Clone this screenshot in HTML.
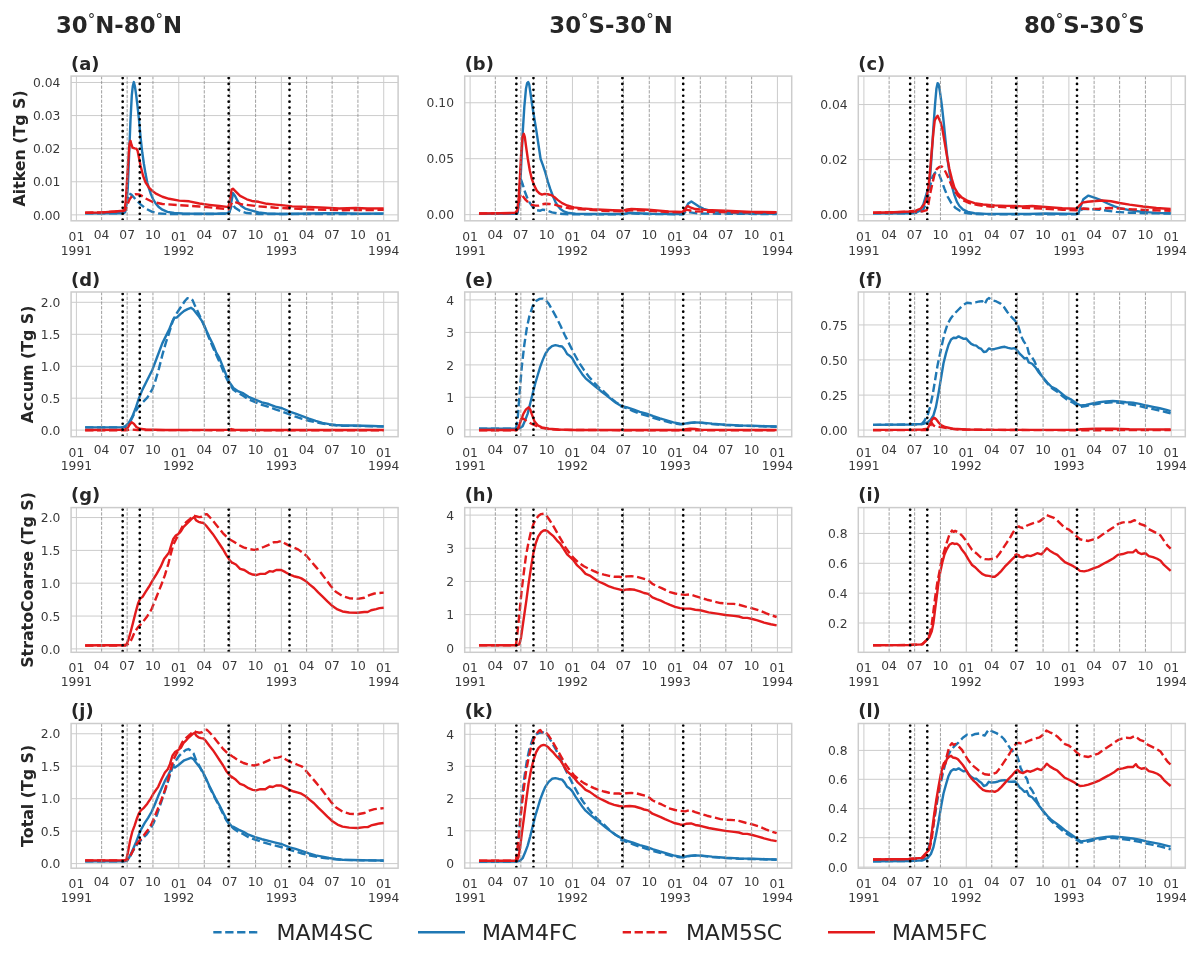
<!DOCTYPE html>
<html lang="en">
<head>
<meta charset="utf-8">
<title>Sulfate burden time series</title>
<style>
html,body{margin:0;padding:0;background:#fff;}
body{width:1199px;height:953px;overflow:hidden;}
svg{display:block;}
text{font-family:"DejaVu Sans","Liberation Sans",sans-serif;fill:#262626;}
.tk{fill:#383838;}
.tk{font-size:12.3px;}
.b{font-weight:bold;}
.ttl{font-size:22.8px;font-weight:bold;}
.pl{font-size:17.9px;font-weight:bold;}
.yl{font-size:15.8px;font-weight:bold;}
.lg{font-size:22px;}
.gM{stroke:#cccccc;stroke-width:1;fill:none;}
.gm{stroke:#8f8f8f;stroke-width:0.85;stroke-dasharray:3.3 1.4;fill:none;}
.dt{stroke:#000;stroke-width:2.7;stroke-dasharray:0 5.9;stroke-linecap:round;fill:none;}
.ax{stroke:#cccccc;stroke-width:1.5;fill:none;}
.c{fill:none;stroke-width:2.4;stroke-linejoin:round;stroke-linecap:butt;}
.bl{stroke:#1f78b4;}.rd{stroke:#e31a1c;}
.ds{stroke-dasharray:8.3 3.6;}
</style>
</head>
<body>
<svg width="1199" height="953" viewBox="0 0 1199 953">
<rect x="0" y="0" width="1199" height="953" fill="#ffffff"/>
<text class="ttl" x="56" y="33">30<tspan class="dg" dy="-8" font-size="15" font-weight="normal">°</tspan><tspan dy="8">N-80</tspan><tspan dy="-8" font-size="15" font-weight="normal">°</tspan><tspan dy="8">N</tspan></text>
<text class="ttl" x="549.3" y="33">30<tspan class="dg" dy="-8" font-size="15" font-weight="normal">°</tspan><tspan dy="8">S-30</tspan><tspan dy="-8" font-size="15" font-weight="normal">°</tspan><tspan dy="8">N</tspan></text>
<text class="ttl" x="1024" y="33">80<tspan class="dg" dy="-8" font-size="15" font-weight="normal">°</tspan><tspan dy="8">S-30</tspan><tspan dy="-8" font-size="15" font-weight="normal">°</tspan><tspan dy="8">S</tspan></text>
<g id="p_a">
<text class="pl" x="71.1" y="69.6">(a)</text>
<path class="gM" d="M71.1 82.47H398.1"/><text class="tk" text-anchor="end" x="60.4" y="87.17">0.04</text>
<path class="gM" d="M71.1 115.57H398.1"/><text class="tk" text-anchor="end" x="60.4" y="120.27">0.03</text>
<path class="gM" d="M71.1 148.67H398.1"/><text class="tk" text-anchor="end" x="60.4" y="153.37">0.02</text>
<path class="gM" d="M71.1 181.76H398.1"/><text class="tk" text-anchor="end" x="60.4" y="186.46">0.01</text>
<path class="gM" d="M71.1 214.86H398.1"/><text class="tk" text-anchor="end" x="60.4" y="219.56">0.00</text>
<text class="tk" text-anchor="middle" x="76.4" y="240.8">01</text><text class="tk" text-anchor="middle" x="76.4" y="254.5">1991</text>
<text class="tk" text-anchor="middle" x="178.75" y="240.8">01</text><text class="tk" text-anchor="middle" x="178.75" y="254.5">1992</text>
<text class="tk" text-anchor="middle" x="281.38" y="240.8">01</text><text class="tk" text-anchor="middle" x="281.38" y="254.5">1993</text>
<text class="tk" text-anchor="middle" x="383.73" y="240.8">01</text><text class="tk" text-anchor="middle" x="383.73" y="254.5">1994</text>
<path class="gM" d="M76.4 76.1V220.8M178.75 76.1V220.8M281.38 76.1V220.8M383.73 76.1V220.8"/>
<path class="c bl ds" d="M85.15 213.22L123.76 213.22L125.78 209.36L127.46 199.28L129.14 193.4L131.32 194.58L135.52 199.28L140.55 204.32L145.59 208.52L152.31 211.87L159.02 213.55L169.1 214.06L228.7 213.89L230.38 209.36L232.06 204.32L232.56 204.32L235.07 207.68L240.11 211.03L246.83 213.05L258.58 214.06L383.66 213.89"/>
<path class="c bl" d="M85.15 213.22L122.09 213.22L125.11 212.38L126.45 204.32L127.79 187.53L129.14 153.95L130.48 120.37L131.82 95.18L132.83 85.95L133.84 82.09L134.85 85.95L136.19 95.18L137.53 106.1L138.88 118.69L140.55 137.16L142.23 152.27L143.91 164.02L145.59 174.1L147.27 182.49L148.95 188.37L150.96 194.24L153.15 199.28L155.66 203.48L159.02 207.34L162.38 209.69L167.42 211.87L174.13 213.05L182.53 213.55L199.32 213.72L216.11 213.72L227.02 213.22L229.54 211.87L231.22 202.64L232.9 194.24L232.89 192.9L235.07 195.92L238.43 202.64L241.79 206.33L245.15 208.52L250.18 210.19L258.58 212.38L266.97 213.55L282.09 214.06L308.95 213.55L325.74 213.22L342.53 213.22L359.32 213.72L383.66 213.55"/>
<path class="c rd ds" d="M85.15 212.71L101.94 212.38L115.37 211.54L122.92 211.03L125.44 210.19L127.46 204.32L129.64 199.28L132.16 195.92L135.52 194.24L138.88 194.41L141.39 195.59L145.59 198.44L152.31 201.8L162.38 203.98L179.17 205.16L199.32 206.5L216.11 208.01L228.7 209.36L230.38 206L232.06 202.64L234.23 201.8L241.79 204.32L258.58 206.33L275.37 207.68L292.16 208.52L308.95 209.36L342.53 210.19L383.66 209.86"/>
<path class="c rd" d="M85.15 212.71L101.94 212.38L115.37 211.54L122.92 210.7L124.6 209.36L125.78 200.96L127.12 179.13L128.47 157.31L129.47 143.88L130.48 140.85L131.49 144.71L132.49 147.57L134.68 148.41L136.36 148.58L137.53 150.59L138.88 157.31L140.55 165.7L143.07 175.78L145.59 182.49L148.95 187.53L152.31 190.89L156.5 193.91L162.38 196.76L169.1 198.78L179.17 200.62L189.24 201.3L199.32 203.48L209.39 204.82L219.47 206L227.02 206.84L228.7 206.33L230.38 197.6L231.55 189.54L232.9 188.7L235.07 190.89L240.11 195.92L246.83 199.28L251.86 200.96L258.58 201.8L266.97 203.81L275.37 204.65L283.76 205.33L292.16 206.33L308.95 207L325.74 207.68L339.17 208.52L355.96 208.01L367.71 208.52L383.66 208.35"/>
<text class="tk" text-anchor="middle" x="101.64" y="238.5">04</text><text class="tk" text-anchor="middle" x="127.15" y="238.5">07</text><text class="tk" text-anchor="middle" x="152.95" y="238.5">10</text><text class="tk" text-anchor="middle" x="204.27" y="238.5">04</text><text class="tk" text-anchor="middle" x="229.78" y="238.5">07</text><text class="tk" text-anchor="middle" x="255.58" y="238.5">10</text><text class="tk" text-anchor="middle" x="306.62" y="238.5">04</text><text class="tk" text-anchor="middle" x="332.13" y="238.5">07</text><text class="tk" text-anchor="middle" x="357.93" y="238.5">10</text>
<path class="gm" d="M101.64 76.1V220.8M127.15 76.1V220.8M152.95 76.1V220.8M204.27 76.1V220.8M229.78 76.1V220.8M255.58 76.1V220.8M306.62 76.1V220.8M332.13 76.1V220.8M357.93 76.1V220.8"/>
<path class="dt" d="M122.67 219.67V76.6M139.77 219.67V76.6M228.66 219.67V76.6M289.51 219.67V76.6"/>
<rect class="ax" x="71.1" y="76.1" width="327" height="144.7"/>
<text class="yl" text-anchor="middle" transform="translate(24.6 148.45) rotate(-90)">Aitken (Tg S)</text>
</g>
<g id="p_b">
<text class="pl" x="464.7" y="69.6">(b)</text>
<path class="gM" d="M464.7 102.75H791.7"/><text class="tk" text-anchor="end" x="454" y="107.45">0.10</text>
<path class="gM" d="M464.7 158.7H791.7"/><text class="tk" text-anchor="end" x="454" y="163.4">0.05</text>
<path class="gM" d="M464.7 214.65H791.7"/><text class="tk" text-anchor="end" x="454" y="219.35">0.00</text>
<text class="tk" text-anchor="middle" x="470.1" y="240.8">01</text><text class="tk" text-anchor="middle" x="470.1" y="254.5">1991</text>
<text class="tk" text-anchor="middle" x="572.45" y="240.8">01</text><text class="tk" text-anchor="middle" x="572.45" y="254.5">1992</text>
<text class="tk" text-anchor="middle" x="675.08" y="240.8">01</text><text class="tk" text-anchor="middle" x="675.08" y="254.5">1993</text>
<text class="tk" text-anchor="middle" x="777.43" y="240.8">01</text><text class="tk" text-anchor="middle" x="777.43" y="254.5">1994</text>
<path class="gM" d="M470.1 76.1V220.8M572.45 76.1V220.8M675.08 76.1V220.8M777.43 76.1V220.8"/>
<path class="c bl ds" d="M478.99 213.89L516.76 213.89L518.78 204.32L520.12 185.85L521.13 179.97L522.64 184.17L525.16 192.57L528.52 200.96L532.71 206.84L536.91 210.19L540.27 210.7L542.79 209.69L546.15 210.19L552.02 212.38L558.74 213.72L568.81 214.22L621.7 214.22L624.72 214.06L628.07 213.05L634.79 213.55L651.58 214.06L683.48 214.22L686 211.03L690.2 212.38L698.59 213.55L776.66 214.06"/>
<path class="c bl" d="M478.99 213.89L515.09 213.89L517.6 212.71L519.28 200.96L520.96 170.74L522.64 133.8L524.32 106.94L526 88.47L527.17 83.1L528.18 82.09L529.19 84.27L530.53 93.51L532.21 105.26L534.39 118.69L536.58 132.12L538.59 145.55L540.61 158.99L542.79 164.86L545.31 172.42L547.83 181.65L550.34 189.21L552.86 195.92L555.38 201.8L557.9 206L560.42 209.02L563.78 211.37L568.81 213.05L575.53 213.72L592.32 214.06L621.7 214.06L624.72 213.89L629.75 212.71L638.15 213.22L651.58 213.89L682.64 214.06L685.16 209.36L688.18 203.48L691.37 201.46L694.39 203.48L698.59 206.33L703.63 208.85L710.34 210.7L718.74 211.87L735.53 213.05L752.32 213.55L776.66 213.72"/>
<path class="c rd ds" d="M478.99 213.55L499.97 213.22L515.92 213.05L518.11 207.68L519.79 197.6L520.96 193.91L522.64 195.92L525.16 199.28L528.52 202.64L531.88 204.82L535.23 205.66L538.59 205.66L541.95 204.32L545.31 203.81L549.5 203.98L555.38 204.82L562.1 206.84L568.81 208.18L582.24 209.36L602.39 210.7L621.7 211.37L624.72 211.37L629.75 210.19L648.22 210.7L668.37 212.04L683.48 212.38L686 209.69L688.52 210.19L695.23 211.37L718.74 212.04L776.66 212.71"/>
<path class="c rd" d="M478.99 213.55L499.97 213.22L515.09 212.88L517.1 211.03L518.44 200.96L519.79 179.13L521.13 153.95L522.47 137.16L523.82 133.8L524.82 137.16L526.17 147.23L527.85 158.99L529.86 170.74L531.88 179.13L534.39 185.85L536.91 190.89L539.43 193.4L541.95 194.58L544.47 193.91L547.83 194.24L551.18 195.08L554.54 197.27L557.9 200.12L562.1 203.14L567.13 205.49L573.85 207.34L582.24 208.35L592.32 209.19L602.39 209.69L612.47 210.19L621.7 210.53L623.04 210.7L627.23 209.36L631.43 209.02L648.22 209.69L668.37 211.37L682.64 211.87L685.16 208.52L687.68 206L690.2 207.34L695.23 209.02L705.31 209.86L725.45 210.7L752.32 211.87L776.66 212.21"/>
<text class="tk" text-anchor="middle" x="495.34" y="238.5">04</text><text class="tk" text-anchor="middle" x="520.85" y="238.5">07</text><text class="tk" text-anchor="middle" x="546.65" y="238.5">10</text><text class="tk" text-anchor="middle" x="597.97" y="238.5">04</text><text class="tk" text-anchor="middle" x="623.48" y="238.5">07</text><text class="tk" text-anchor="middle" x="649.28" y="238.5">10</text><text class="tk" text-anchor="middle" x="700.32" y="238.5">04</text><text class="tk" text-anchor="middle" x="725.83" y="238.5">07</text><text class="tk" text-anchor="middle" x="751.63" y="238.5">10</text>
<path class="gm" d="M495.34 76.1V220.8M520.85 76.1V220.8M546.65 76.1V220.8M597.97 76.1V220.8M623.48 76.1V220.8M649.28 76.1V220.8M700.32 76.1V220.8M725.83 76.1V220.8M751.63 76.1V220.8"/>
<path class="dt" d="M516.37 219.67V76.6M533.47 219.67V76.6M622.36 219.67V76.6M683.21 219.67V76.6"/>
<rect class="ax" x="464.7" y="76.1" width="327" height="144.7"/>
</g>
<g id="p_c">
<text class="pl" x="858.3" y="69.6">(c)</text>
<path class="gM" d="M858.3 104.55H1185.3"/><text class="tk" text-anchor="end" x="847.6" y="109.25">0.04</text>
<path class="gM" d="M858.3 159.6H1185.3"/><text class="tk" text-anchor="end" x="847.6" y="164.3">0.02</text>
<path class="gM" d="M858.3 214.65H1185.3"/><text class="tk" text-anchor="end" x="847.6" y="219.35">0.00</text>
<text class="tk" text-anchor="middle" x="863.9" y="240.8">01</text><text class="tk" text-anchor="middle" x="863.9" y="254.5">1991</text>
<text class="tk" text-anchor="middle" x="966.25" y="240.8">01</text><text class="tk" text-anchor="middle" x="966.25" y="254.5">1992</text>
<text class="tk" text-anchor="middle" x="1068.88" y="240.8">01</text><text class="tk" text-anchor="middle" x="1068.88" y="254.5">1993</text>
<text class="tk" text-anchor="middle" x="1171.23" y="240.8">01</text><text class="tk" text-anchor="middle" x="1171.23" y="254.5">1994</text>
<path class="gM" d="M863.9 76.1V220.8M966.25 76.1V220.8M1068.88 76.1V220.8M1171.23 76.1V220.8"/>
<path class="c bl ds" d="M872.99 213.22L909.09 213.22L915.8 212.88L922.52 211.03L925.88 204.32L928.39 194.24L930.58 184.17L932.59 176.62L935.11 172.75L937.29 172.08L939.31 174.94L941.83 181.65L944.34 188.37L947.7 196.76L951.06 202.64L955.26 207.68L960.29 211.03L966.17 213.05L972.89 213.89L986.32 214.39L1015.7 214.39L1076.64 214.22L1078.82 213.55L1080.84 210.19L1083.36 208.68L1089.23 209.02L1099.31 209.69L1107.7 210.7L1116.1 211.87L1129.53 212.71L1146.32 213.22L1170.66 213.55"/>
<path class="c bl" d="M872.99 213.22L909.09 213.22L915.8 212.71L920 210.7L923.36 204.32L925.88 195.92L928.39 187.53L930.07 177.45L931.75 153.95L933.43 127.09L935.11 103.58L936.45 88.47L937.63 83.1L938.64 84.27L939.98 91.83L941.83 105.26L943.5 120.37L945.52 140.52L947.7 160.66L949.72 174.1L951.9 185.85L954.42 195.08L956.94 201.8L959.45 206L962.81 209.36L967.85 211.87L974.57 213.22L986.32 213.89L1015.7 214.06L1028.79 213.89L1045.58 213.55L1076.64 213.89L1078.82 212.71L1080.84 206L1083.36 199.28L1088.39 195.59L1094.27 197.6L1100.99 200.12L1107.7 203.48L1114.42 206.33L1121.13 208.52L1129.53 210.19L1142.96 211.87L1156.39 212.88L1170.66 213.22"/>
<path class="c rd ds" d="M872.99 212.71L893.97 212.21L909.09 211.71L915.8 211.54L922.52 211.37L926.71 210.19L928.39 204.32L930.07 194.24L932.26 184.17L934.61 174.1L936.79 169.06L939.31 167.04L941.83 166.54L944.01 169.06L946.02 172.75L948.54 178.29L951.4 185.01L954.42 190.89L958.11 195.92L962.81 200.12L969.53 203.14L977.92 205.16L989.68 206.5L1003.11 207.17L1015.7 207.51L1028.79 208.01L1045.58 208.68L1062.37 209.69L1076.64 210.19L1079.16 209.69L1082.52 208.52L1089.23 209.02L1099.31 208.68L1109.38 208.01L1119.45 208.52L1132.89 209.36L1149.68 210.19L1170.66 210.7"/>
<path class="c rd" d="M872.99 212.71L893.97 212.21L909.09 211.54L915.8 210.7L920.84 208.52L924.2 204.32L926.71 197.6L928.39 187.53L930.07 170.74L931.75 150.59L933.43 132.12L934.77 120.37L936.28 117.52L937.63 115.67L938.97 118.69L940.48 122.05L942.33 128.76L944.34 140.52L946.86 155.63L949.38 169.06L951.9 179.13L954.42 187.53L957.78 193.4L961.97 197.6L967.85 200.96L974.57 203.14L982.96 204.49L994.71 205.33L1006.47 205.83L1015.7 206L1022.07 206.33L1032.15 206L1045.58 207L1062.37 208.18L1076.64 208.68L1079.16 205.66L1082.52 202.64L1087.55 201.8L1095.95 200.96L1102.66 200.46L1111.06 201.3L1119.45 202.98L1129.53 204.65L1142.96 206.5L1156.39 208.01L1170.66 209.02"/>
<text class="tk" text-anchor="middle" x="889.14" y="238.5">04</text><text class="tk" text-anchor="middle" x="914.65" y="238.5">07</text><text class="tk" text-anchor="middle" x="940.45" y="238.5">10</text><text class="tk" text-anchor="middle" x="991.77" y="238.5">04</text><text class="tk" text-anchor="middle" x="1017.28" y="238.5">07</text><text class="tk" text-anchor="middle" x="1043.08" y="238.5">10</text><text class="tk" text-anchor="middle" x="1094.12" y="238.5">04</text><text class="tk" text-anchor="middle" x="1119.63" y="238.5">07</text><text class="tk" text-anchor="middle" x="1145.43" y="238.5">10</text>
<path class="gm" d="M889.14 76.1V220.8M914.65 76.1V220.8M940.45 76.1V220.8M991.77 76.1V220.8M1017.28 76.1V220.8M1043.08 76.1V220.8M1094.12 76.1V220.8M1119.63 76.1V220.8M1145.43 76.1V220.8"/>
<path class="dt" d="M910.17 219.67V76.6M927.27 219.67V76.6M1016.16 219.67V76.6M1077.01 219.67V76.6"/>
<rect class="ax" x="858.3" y="76.1" width="327" height="144.7"/>
</g>
<g id="p_d">
<text class="pl" x="71.1" y="285.5">(d)</text>
<path class="gM" d="M71.1 302.3H398.1"/><text class="tk" text-anchor="end" x="60.4" y="307">2.0</text>
<path class="gM" d="M71.1 334.3H398.1"/><text class="tk" text-anchor="end" x="60.4" y="339">1.5</text>
<path class="gM" d="M71.1 366.3H398.1"/><text class="tk" text-anchor="end" x="60.4" y="371">1.0</text>
<path class="gM" d="M71.1 398.2H398.1"/><text class="tk" text-anchor="end" x="60.4" y="402.9">0.5</text>
<path class="gM" d="M71.1 430.1H398.1"/><text class="tk" text-anchor="end" x="60.4" y="434.8">0.0</text>
<text class="tk" text-anchor="middle" x="76.4" y="456.7">01</text><text class="tk" text-anchor="middle" x="76.4" y="470.4">1991</text>
<text class="tk" text-anchor="middle" x="178.75" y="456.7">01</text><text class="tk" text-anchor="middle" x="178.75" y="470.4">1992</text>
<text class="tk" text-anchor="middle" x="281.38" y="456.7">01</text><text class="tk" text-anchor="middle" x="281.38" y="470.4">1993</text>
<text class="tk" text-anchor="middle" x="383.73" y="456.7">01</text><text class="tk" text-anchor="middle" x="383.73" y="470.4">1994</text>
<path class="gM" d="M76.4 292V436.7M178.75 292V436.7M281.38 292V436.7M383.73 292V436.7"/>
<path class="c bl ds" d="M85.15 427.37L122.92 427.37L126.28 426.53L129.64 422.84L133 416.12L137.2 408.57L142.23 402.69L147.27 397.65L152.31 389.26L155.66 380.02L159.02 368.27L162.38 354.84L165.74 343.09L169.1 333.01L172.45 322.1L175.81 314.54L180.85 306.99L185.05 300.78L187.57 298.09L190.08 298.09L192.6 300.27L195.12 306.15L197.64 311.18L201 318.74L204.36 326.3L207.71 334.69L211.07 343.09L214.43 350.64L217.79 358.2L221.15 365.75L224.5 374.15L227.86 380.86L231.22 386.4L233.39 389.76L238.43 393.12L243.47 395.97L248.51 399.33L255.22 402.19L261.94 404.87L268.65 406.89L275.37 409.4L282.09 411.59L289.64 414.44L295.52 416.62L302.23 418.98L308.95 420.82L315.66 422.33L322.38 423.68L329.1 424.68L335.81 425.36L342.53 425.69L383.66 426.53"/>
<path class="c bl" d="M85.15 427.37L122.09 427.37L125.44 426.19L128.8 422.84L132.16 416.96L135.52 408.57L138.88 398.49L142.23 390.1L147.27 380.02L152.31 369.95L157.34 356.52L162.38 343.09L165.74 336.37L169.1 329.65L172.45 321.26L174.13 317.9L176.65 317.56L180.85 313.7L184.21 310.85L187.57 309.17L190.92 307.83L193.44 309.51L195.96 312.86L199.32 317.06L202.68 322.1L206.03 329.65L209.39 337.21L212.75 343.92L216.11 352.32L219.47 358.2L222.82 366.59L226.18 374.99L229.54 382.54L232.9 387.24L233.39 388.08L238.43 391.44L243.47 393.45L248.51 396.81L255.22 399.67L261.94 402.35L268.65 404.03L275.37 406.55L282.09 408.23L289.64 411.59L295.52 413.6L302.23 416.12L308.95 418.64L315.66 420.82L322.38 422.84L329.1 424.18L335.81 425.02L342.53 425.52L352.6 425.52L362.68 425.69L372.75 426.03L383.66 426.36"/>
<path class="c rd ds" d="M85.15 430.22L125.44 430.22L128.8 429.89L132.16 429.55L137.2 430.06L232.9 430.22L234.23 430.22L383.66 430.22"/>
<path class="c rd" d="M85.15 430.06L123.76 429.89L127.12 428.71L129.64 424.52L131.66 422.33L133.84 423.68L136.36 427.03L139.71 428.71L145.59 429.55L165.74 430.06L228.7 429.89L231.22 429.05L234.23 429.72L258.58 430.06L383.66 430.06"/>
<text class="tk" text-anchor="middle" x="101.64" y="454.4">04</text><text class="tk" text-anchor="middle" x="127.15" y="454.4">07</text><text class="tk" text-anchor="middle" x="152.95" y="454.4">10</text><text class="tk" text-anchor="middle" x="204.27" y="454.4">04</text><text class="tk" text-anchor="middle" x="229.78" y="454.4">07</text><text class="tk" text-anchor="middle" x="255.58" y="454.4">10</text><text class="tk" text-anchor="middle" x="306.62" y="454.4">04</text><text class="tk" text-anchor="middle" x="332.13" y="454.4">07</text><text class="tk" text-anchor="middle" x="357.93" y="454.4">10</text>
<path class="gm" d="M101.64 292V436.7M127.15 292V436.7M152.95 292V436.7M204.27 292V436.7M229.78 292V436.7M255.58 292V436.7M306.62 292V436.7M332.13 292V436.7M357.93 292V436.7"/>
<path class="dt" d="M122.67 435.57V292.5M139.77 435.57V292.5M228.66 435.57V292.5M289.51 435.57V292.5"/>
<rect class="ax" x="71.1" y="292" width="327" height="144.7"/>
<text class="yl" text-anchor="middle" transform="translate(32.6 364.35) rotate(-90)">Accum (Tg S)</text>
</g>
<g id="p_e">
<text class="pl" x="464.7" y="285.5">(e)</text>
<path class="gM" d="M464.7 299.9H791.7"/><text class="tk" text-anchor="end" x="454" y="304.6">4</text>
<path class="gM" d="M464.7 332.4H791.7"/><text class="tk" text-anchor="end" x="454" y="337.1">3</text>
<path class="gM" d="M464.7 364.9H791.7"/><text class="tk" text-anchor="end" x="454" y="369.6">2</text>
<path class="gM" d="M464.7 397.3H791.7"/><text class="tk" text-anchor="end" x="454" y="402">1</text>
<path class="gM" d="M464.7 429.9H791.7"/><text class="tk" text-anchor="end" x="454" y="434.6">0</text>
<text class="tk" text-anchor="middle" x="470.1" y="456.7">01</text><text class="tk" text-anchor="middle" x="470.1" y="470.4">1991</text>
<text class="tk" text-anchor="middle" x="572.45" y="456.7">01</text><text class="tk" text-anchor="middle" x="572.45" y="470.4">1992</text>
<text class="tk" text-anchor="middle" x="675.08" y="456.7">01</text><text class="tk" text-anchor="middle" x="675.08" y="470.4">1993</text>
<text class="tk" text-anchor="middle" x="777.43" y="456.7">01</text><text class="tk" text-anchor="middle" x="777.43" y="470.4">1994</text>
<path class="gM" d="M470.1 292V436.7M572.45 292V436.7M675.08 292V436.7M777.43 292V436.7"/>
<path class="c bl ds" d="M478.99 428.71L515.92 428.71L517.6 420.32L518.78 403.53L520.12 386.74L521.8 366.59L524.32 344.76L526.84 327.97L529.36 316.22L532.71 306.15L536.07 301.11L539.43 298.93L542.79 298.59L545.31 299.77L548.66 303.63L552.02 309.51L556.22 317.06L560.42 325.46L564.62 334.69L568.81 343.09L573.85 353.16L578.89 362.39L583.92 369.95L588.96 376.66L594 382.54L599.03 387.58L604.07 391.78L609.11 396.81L615.82 402.19L622.54 406.05L621.36 406.55L626.39 408.23L633.11 411.08L639.83 413.6L646.54 415.62L653.26 417.8L659.97 419.81L666.69 421.66L673.41 423.34L680.12 424.35L683.48 424.18L688.52 423.17L695.23 422.5L701.95 422.84L712.02 424.01L725.45 425.02L738.89 425.69L776.66 426.7"/>
<path class="c bl" d="M478.99 428.71L515.92 428.71L519.28 428.38L522.64 426.19L525.16 420.32L527.68 413.6L530.2 403.53L532.71 393.45L535.23 383.38L537.75 374.99L540.27 366.59L542.79 359.88L545.31 354L548.66 348.96L552.02 346.11L555.38 345.1L558.74 345.94L562.1 346.44L564.62 349.47L567.13 354L569.65 355.68L572.17 358.2L575.53 364.07L578.89 369.11L582.24 374.15L585.6 378.34L590.64 382.54L595.68 386.74L600.71 390.94L605.75 394.8L610.79 398.83L615.82 402.69L620.86 405.71L625.9 407.22L626.39 407.22L633.11 409.4L639.83 411.92L646.54 413.6L653.26 416.12L659.97 418.3L666.69 420.32L673.41 422.33L680.12 423.68L683.48 423.84L688.52 423L695.23 422.33L701.95 422.67L712.02 423.68L725.45 424.68L738.89 425.36L752.32 425.69L765.75 426.19L776.66 426.53"/>
<path class="c rd ds" d="M478.99 430.22L516.76 430.22L518.78 427.03L520.96 419.48L523.48 418.64L526.84 421.16L531.88 424.01L536.91 426.19L541.95 427.87L548.66 429.05L558.74 429.89L625.9 430.22L682.64 430.22L776.66 430.22"/>
<path class="c rd" d="M478.99 430.06L515.92 430.06L518.44 427.87L520.96 420.32L523.48 413.6L526 409.4L528.52 407.39L530.2 409.4L531.88 414.44L534.39 421.16L537.75 425.36L541.95 427.37L548.66 428.71L558.74 429.55L575.53 430.06L625.9 430.06L682.64 430.06L686 429.22L690.2 428.71L695.23 429.05L701.95 429.89L776.66 430.06"/>
<text class="tk" text-anchor="middle" x="495.34" y="454.4">04</text><text class="tk" text-anchor="middle" x="520.85" y="454.4">07</text><text class="tk" text-anchor="middle" x="546.65" y="454.4">10</text><text class="tk" text-anchor="middle" x="597.97" y="454.4">04</text><text class="tk" text-anchor="middle" x="623.48" y="454.4">07</text><text class="tk" text-anchor="middle" x="649.28" y="454.4">10</text><text class="tk" text-anchor="middle" x="700.32" y="454.4">04</text><text class="tk" text-anchor="middle" x="725.83" y="454.4">07</text><text class="tk" text-anchor="middle" x="751.63" y="454.4">10</text>
<path class="gm" d="M495.34 292V436.7M520.85 292V436.7M546.65 292V436.7M597.97 292V436.7M623.48 292V436.7M649.28 292V436.7M700.32 292V436.7M725.83 292V436.7M751.63 292V436.7"/>
<path class="dt" d="M516.37 435.57V292.5M533.47 435.57V292.5M622.36 435.57V292.5M683.21 435.57V292.5"/>
<rect class="ax" x="464.7" y="292" width="327" height="144.7"/>
</g>
<g id="p_f">
<text class="pl" x="858.3" y="285.5">(f)</text>
<path class="gM" d="M858.3 324.95H1185.3"/><text class="tk" text-anchor="end" x="847.6" y="329.65">0.75</text>
<path class="gM" d="M858.3 359.9H1185.3"/><text class="tk" text-anchor="end" x="847.6" y="364.6">0.50</text>
<path class="gM" d="M858.3 395.1H1185.3"/><text class="tk" text-anchor="end" x="847.6" y="399.8">0.25</text>
<path class="gM" d="M858.3 430.05H1185.3"/><text class="tk" text-anchor="end" x="847.6" y="434.75">0.00</text>
<text class="tk" text-anchor="middle" x="863.9" y="456.7">01</text><text class="tk" text-anchor="middle" x="863.9" y="470.4">1991</text>
<text class="tk" text-anchor="middle" x="966.25" y="456.7">01</text><text class="tk" text-anchor="middle" x="966.25" y="470.4">1992</text>
<text class="tk" text-anchor="middle" x="1068.88" y="456.7">01</text><text class="tk" text-anchor="middle" x="1068.88" y="470.4">1993</text>
<text class="tk" text-anchor="middle" x="1171.23" y="456.7">01</text><text class="tk" text-anchor="middle" x="1171.23" y="470.4">1994</text>
<path class="gM" d="M863.9 292V436.7M966.25 292V436.7M1068.88 292V436.7M1171.23 292V436.7"/>
<path class="c bl ds" d="M872.99 424.85L909.09 424.52L921.68 424.01L924.2 421.16L927.55 415.28L930.07 406.89L932.59 395.13L935.11 380.02L937.63 364.91L940.15 353.16L942.66 341.41L945.18 331.33L947.7 323.78L951.06 317.9L954.42 313.7L958.62 309.51L962.81 305.31L967.01 302.79L971.21 303.29L975.4 302.45L979.6 301.45L982.12 301.11L984.64 304.13L987.16 299.43L988.84 298.09L992.19 300.27L996.39 301.45L1000.59 303.63L1003.95 306.99L1007.31 312.02L1010.66 316.22L1014.02 319.58L1017.38 323.78L1019.9 331.33L1020.39 334.69L1023.75 341.41L1027.11 346.44L1028.79 353.16L1032.15 357.36L1034.67 361.55L1037.18 368.27L1040.54 374.15L1043.9 379.18L1048.1 384.22L1052.3 388.42L1057.33 391.78L1062.37 395.97L1067.41 399.83L1072.44 402.35L1077.48 405.71L1080.84 406.89L1085.88 406.05L1092.59 404.7L1099.31 403.53L1106.02 402.69L1112.74 402.19L1119.45 402.69L1126.17 403.86L1132.89 404.87L1139.6 406.05L1146.32 407.73L1153.03 409.07L1159.75 410.58L1166.47 412.26L1170.66 413.27"/>
<path class="c bl" d="M872.99 424.85L909.09 424.52L922.52 424.01L927.55 422.33L930.91 419.48L933.43 415.28L935.95 406.89L938.47 393.45L940.99 378.34L943.5 363.23L946.02 353.16L948.54 344.76L951.06 339.39L953.58 337.71L956.1 338.05L958.62 336.37L961.13 337.71L963.65 338.89L966.17 338.55L968.69 341.41L971.21 343.92L973.73 345.1L976.24 345.6L978.76 347.79L981.28 348.96L983.8 351.98L986.32 351.48L988.84 348.46L991.36 349.47L994.71 348.96L998.07 348.12L1001.43 347.28L1004.79 346.78L1008.15 347.79L1011.5 348.63L1014.86 348.12L1017.38 350.64L1019.9 354L1021.23 355.17L1024.59 358.53L1026.78 357.86L1028.79 362.39L1032.15 363.74L1035.51 367.43L1038.86 372.47L1043.06 377.5L1047.26 382.54L1051.46 386.74L1055.65 388.75L1060.69 392.62L1065.73 396.81L1070.76 399.33L1076.64 403.53L1080.84 405.54L1085.88 404.87L1092.59 403.53L1099.31 402.19L1106.02 401.35L1112.74 401.01L1119.45 401.51L1126.17 402.19L1132.89 402.69L1139.6 403.86L1146.32 405.54L1153.03 406.89L1159.75 408.23L1166.47 409.91L1170.66 411.08"/>
<path class="c rd ds" d="M872.99 430.22L927.55 430.06L930.07 426.19L931.75 422.84L933.43 425.36L935.95 426.7L940.99 427.03L947.7 428.38L959.45 429.55L1019.9 430.06L1076.64 430.22L1170.66 430.06"/>
<path class="c rd" d="M872.99 429.89L909.09 429.89L922.52 429.55L927.55 428.71L930.07 423.68L932.26 419.14L934.27 417.8L935.95 418.98L938.47 422.33L940.99 425.02L945.18 427.03L952.74 428.71L966.17 429.55L986.32 429.89L1019.9 429.89L1076.64 429.89L1080.84 429.22L1095.95 428.71L1112.74 428.71L1129.53 429.22L1170.66 429.55"/>
<text class="tk" text-anchor="middle" x="889.14" y="454.4">04</text><text class="tk" text-anchor="middle" x="914.65" y="454.4">07</text><text class="tk" text-anchor="middle" x="940.45" y="454.4">10</text><text class="tk" text-anchor="middle" x="991.77" y="454.4">04</text><text class="tk" text-anchor="middle" x="1017.28" y="454.4">07</text><text class="tk" text-anchor="middle" x="1043.08" y="454.4">10</text><text class="tk" text-anchor="middle" x="1094.12" y="454.4">04</text><text class="tk" text-anchor="middle" x="1119.63" y="454.4">07</text><text class="tk" text-anchor="middle" x="1145.43" y="454.4">10</text>
<path class="gm" d="M889.14 292V436.7M914.65 292V436.7M940.45 292V436.7M991.77 292V436.7M1017.28 292V436.7M1043.08 292V436.7M1094.12 292V436.7M1119.63 292V436.7M1145.43 292V436.7"/>
<path class="dt" d="M910.17 435.57V292.5M927.27 435.57V292.5M1016.16 435.57V292.5M1077.01 435.57V292.5"/>
<rect class="ax" x="858.3" y="292" width="327" height="144.7"/>
</g>
<g id="p_g">
<text class="pl" x="71.1" y="501.1">(g)</text>
<path class="gM" d="M71.1 517.55H398.1"/><text class="tk" text-anchor="end" x="60.4" y="522.25">2.0</text>
<path class="gM" d="M71.1 550.4H398.1"/><text class="tk" text-anchor="end" x="60.4" y="555.1">1.5</text>
<path class="gM" d="M71.1 583.2H398.1"/><text class="tk" text-anchor="end" x="60.4" y="587.9">1.0</text>
<path class="gM" d="M71.1 616.05H398.1"/><text class="tk" text-anchor="end" x="60.4" y="620.75">0.5</text>
<path class="gM" d="M71.1 648.9H398.1"/><text class="tk" text-anchor="end" x="60.4" y="653.6">0.0</text>
<text class="tk" text-anchor="middle" x="76.4" y="672.3">01</text><text class="tk" text-anchor="middle" x="76.4" y="686">1991</text>
<text class="tk" text-anchor="middle" x="178.75" y="672.3">01</text><text class="tk" text-anchor="middle" x="178.75" y="686">1992</text>
<text class="tk" text-anchor="middle" x="281.38" y="672.3">01</text><text class="tk" text-anchor="middle" x="281.38" y="686">1993</text>
<text class="tk" text-anchor="middle" x="383.73" y="672.3">01</text><text class="tk" text-anchor="middle" x="383.73" y="686">1994</text>
<path class="gM" d="M76.4 507.6V652.3M178.75 507.6V652.3M281.38 507.6V652.3M383.73 507.6V652.3"/>
<path class="c rd ds" d="M85.15 645.55L125.44 645.55L129.64 643.03L132.16 638L134.68 632.12L138.04 627.08L142.23 622.89L147.27 616.17L151.47 609.45L154.83 601.06L158.18 592.66L161.54 584.27L164.9 575.04L168.26 564.12L170.78 554.05L173.29 544.81L175.81 539.78L179.17 533.06L182.53 526.35L185.89 522.48L190.08 518.79L193.44 515.43L195.96 516.27L199.32 517.11L201.84 516.78L204.36 514.59L206.87 514.09L209.39 516.78L212.75 520.47L216.11 524.67L219.47 528.86L222.82 533.06L226.18 536.42L230.38 539.78L233.39 541.46L238.43 544.81L243.47 547.33L248.51 549.01L254.38 549.85L258.58 549.01L263.62 547L268.65 544.81L273.69 542.3L277.89 541.96L281.25 540.95L285.44 543.64L289.64 545.99L293.84 547.67L298.04 549.35L302.23 552.37L306.43 555.73L310.63 560.76L315.66 566.64L320.7 572.52L325.74 579.23L330.78 585.95L335.81 591.83L342.53 596.02L349.24 598.21L357.64 598.88L364.36 597.7L369.39 595.18L374.43 593.5L379.47 593L383.66 592.66"/>
<path class="c rd" d="M85.15 645.55L98.58 645.22L122.09 645.22L126.28 644.71L128.47 639.68L130.82 631.28L133 622.89L135.52 612.81L138.04 603.58L140.22 598.54L142.57 596.86L145.59 591.83L148.95 586.79L152.31 580.91L156.5 574.2L160.7 566.64L164.06 559.09L166.58 555.73L169.1 552.37L171.11 545.65L173.29 538.94L175.81 535.58L178.33 533.9L180.85 531.38L183.37 527.18L185.89 524.67L188.4 522.15L190.92 519.63L192.94 517.95L194.28 517.11L195.96 520.13L198.48 521.81L201 522.48L203.52 522.99L206.03 525.51L209.39 529.7L212.75 533.9L216.11 538.94L219.47 543.97L222.82 549.01L226.18 554.89L229.54 559.92L232.06 562.78L231.72 562.44L235.91 564.46L240.11 568.82L244.31 570L248.51 572.85L252.7 574.53L256.06 575.04L260.26 573.86L265.3 573.86L269.49 571.17L272.85 571.68L276.21 570L281.25 570L285.44 572.18L289.64 574.53L293.84 576.21L298.04 577.22L301.39 578.39L305.59 580.91L309.79 584.61L313.99 587.96L318.18 592.33L322.38 596.36L327.42 601.4L332.45 606.1L337.49 609.45L342.53 611.47L349.24 612.48L357.64 612.81L364.36 611.97L367.71 611.97L371.07 610.29L376.11 609.12L379.47 608.11L383.66 607.78"/>
<text class="tk" text-anchor="middle" x="101.64" y="670">04</text><text class="tk" text-anchor="middle" x="127.15" y="670">07</text><text class="tk" text-anchor="middle" x="152.95" y="670">10</text><text class="tk" text-anchor="middle" x="204.27" y="670">04</text><text class="tk" text-anchor="middle" x="229.78" y="670">07</text><text class="tk" text-anchor="middle" x="255.58" y="670">10</text><text class="tk" text-anchor="middle" x="306.62" y="670">04</text><text class="tk" text-anchor="middle" x="332.13" y="670">07</text><text class="tk" text-anchor="middle" x="357.93" y="670">10</text>
<path class="gm" d="M101.64 507.6V652.3M127.15 507.6V652.3M152.95 507.6V652.3M204.27 507.6V652.3M229.78 507.6V652.3M255.58 507.6V652.3M306.62 507.6V652.3M332.13 507.6V652.3M357.93 507.6V652.3"/>
<path class="dt" d="M122.67 651.17V508.1M139.77 651.17V508.1M228.66 651.17V508.1M289.51 651.17V508.1"/>
<rect class="ax" x="71.1" y="507.6" width="327" height="144.7"/>
<text class="yl" text-anchor="middle" transform="translate(32.6 579.95) rotate(-90)">StratoCoarse (Tg S)</text>
</g>
<g id="p_h">
<text class="pl" x="464.7" y="501.1">(h)</text>
<path class="gM" d="M464.7 515.1H791.7"/><text class="tk" text-anchor="end" x="454" y="519.8">4</text>
<path class="gM" d="M464.7 548.25H791.7"/><text class="tk" text-anchor="end" x="454" y="552.95">3</text>
<path class="gM" d="M464.7 581.45H791.7"/><text class="tk" text-anchor="end" x="454" y="586.15">2</text>
<path class="gM" d="M464.7 614.6H791.7"/><text class="tk" text-anchor="end" x="454" y="619.3">1</text>
<path class="gM" d="M464.7 647.8H791.7"/><text class="tk" text-anchor="end" x="454" y="652.5">0</text>
<text class="tk" text-anchor="middle" x="470.1" y="672.3">01</text><text class="tk" text-anchor="middle" x="470.1" y="686">1991</text>
<text class="tk" text-anchor="middle" x="572.45" y="672.3">01</text><text class="tk" text-anchor="middle" x="572.45" y="686">1992</text>
<text class="tk" text-anchor="middle" x="675.08" y="672.3">01</text><text class="tk" text-anchor="middle" x="675.08" y="686">1993</text>
<text class="tk" text-anchor="middle" x="777.43" y="672.3">01</text><text class="tk" text-anchor="middle" x="777.43" y="686">1994</text>
<path class="gM" d="M470.1 507.6V652.3M572.45 507.6V652.3M675.08 507.6V652.3M777.43 507.6V652.3"/>
<path class="c rd ds" d="M478.99 645.22L515.92 645.22L517.1 636.32L518.44 622.89L520.12 606.1L521.8 589.31L523.82 572.52L526 555.73L528.52 542.3L531.04 531.38L533.55 523.83L536.07 518.79L538.59 515.77L541.11 514.09L543.63 513.75L546.15 515.43L548.66 518.79L552.02 523.83L555.38 529.7L558.74 535.58L562.1 541.46L565.45 547.33L569.65 553.21L573.85 558.25L578.89 562.78L583.92 566.3L588.96 568.82L594 571.17L599.03 573.36L604.07 574.7L609.11 575.88L614.15 576.71L619.18 576.71L623.38 577.55L626.39 576.38L631.43 576.21L636.47 576.71L641.51 578.06L645.7 579.23L649.06 580.91L652.42 583.93L656.62 585.95L661.65 588.13L665.85 590.15L670.05 592.16L675.09 593.5L680.12 594.34L685.16 594.85L690.2 594.34L695.23 596.02L700.27 597.7L706.99 599.72L713.7 601.4L720.42 603.07L727.13 603.58L733.85 603.91L738.89 604.75L745.6 606.6L752.32 608.28L759.03 610.29L765.75 613.15L772.47 615.67L776.66 617.01"/>
<path class="c rd" d="M478.99 645.22L516.76 645.22L519.28 644.38L520.96 638L522.64 626.24L524.32 614.49L526.5 599.38L528.52 584.27L531.04 567.48L533.22 554.05L535.57 543.97L538.26 536.42L541.11 532.22L543.63 530.54L545.64 530.21L547.83 531.38L550.34 533.56L553.7 536.42L557.06 540.62L560.42 543.97L563.78 549.01L567.13 554.38L570.49 557.41L573.85 560.76L577.21 565.47L581.4 569.16L585.6 573.86L589.8 575.54L594 578.39L599.03 581.75L604.07 583.93L609.11 586.45L614.15 588.13L619.18 589.31L623.38 590.48L625.56 589.64L629.75 589.31L634.79 589.81L639.83 591.32L644.02 593L648.22 593.84L652.42 597.37L656.62 599.04L660.81 600.56L665.01 602.74L670.05 604.92L675.09 606.94L680.12 608.11L685.16 608.62L690.2 608.62L695.23 609.79L700.27 610.29L708.66 612.31L717.06 613.65L725.45 615L733.85 615.83L738.89 616.51L743.08 617.85L747.28 617.85L752.32 619.02L757.36 620.37L764.07 622.55L770.79 624.23L776.66 625.4"/>
<text class="tk" text-anchor="middle" x="495.34" y="670">04</text><text class="tk" text-anchor="middle" x="520.85" y="670">07</text><text class="tk" text-anchor="middle" x="546.65" y="670">10</text><text class="tk" text-anchor="middle" x="597.97" y="670">04</text><text class="tk" text-anchor="middle" x="623.48" y="670">07</text><text class="tk" text-anchor="middle" x="649.28" y="670">10</text><text class="tk" text-anchor="middle" x="700.32" y="670">04</text><text class="tk" text-anchor="middle" x="725.83" y="670">07</text><text class="tk" text-anchor="middle" x="751.63" y="670">10</text>
<path class="gm" d="M495.34 507.6V652.3M520.85 507.6V652.3M546.65 507.6V652.3M597.97 507.6V652.3M623.48 507.6V652.3M649.28 507.6V652.3M700.32 507.6V652.3M725.83 507.6V652.3M751.63 507.6V652.3"/>
<path class="dt" d="M516.37 651.17V508.1M533.47 651.17V508.1M622.36 651.17V508.1M683.21 651.17V508.1"/>
<rect class="ax" x="464.7" y="507.6" width="327" height="144.7"/>
</g>
<g id="p_i">
<text class="pl" x="858.3" y="501.1">(i)</text>
<path class="gM" d="M858.3 533.45H1185.3"/><text class="tk" text-anchor="end" x="847.6" y="538.15">0.8</text>
<path class="gM" d="M858.3 563.3H1185.3"/><text class="tk" text-anchor="end" x="847.6" y="568">0.6</text>
<path class="gM" d="M858.3 593.2H1185.3"/><text class="tk" text-anchor="end" x="847.6" y="597.9">0.4</text>
<path class="gM" d="M858.3 623H1185.3"/><text class="tk" text-anchor="end" x="847.6" y="627.7">0.2</text>
<text class="tk" text-anchor="middle" x="863.9" y="672.3">01</text><text class="tk" text-anchor="middle" x="863.9" y="686">1991</text>
<text class="tk" text-anchor="middle" x="966.25" y="672.3">01</text><text class="tk" text-anchor="middle" x="966.25" y="686">1992</text>
<text class="tk" text-anchor="middle" x="1068.88" y="672.3">01</text><text class="tk" text-anchor="middle" x="1068.88" y="686">1993</text>
<text class="tk" text-anchor="middle" x="1171.23" y="672.3">01</text><text class="tk" text-anchor="middle" x="1171.23" y="686">1994</text>
<path class="gM" d="M863.9 507.6V652.3M966.25 507.6V652.3M1068.88 507.6V652.3M1171.23 507.6V652.3"/>
<path class="c rd ds" d="M872.99 645.22L909.09 645.05L922.52 644.38L926.71 639.68L929.57 634.64L931.75 624.57L933.43 611.13L935.11 597.7L937.29 582.59L939.31 572.52L941.83 559.09L944.34 550.69L946.86 542.3L949.38 534.74L951.9 530.54L953.58 531.89L955.26 530.88L958.62 532.56L961.97 535.58L965.33 539.78L968.69 544.81L972.05 549.85L976.24 553.21L980.44 557.07L984.64 559.09L988.84 559.42L993.03 558.75L996.39 557.41L999.75 553.21L1003.11 548.17L1006.47 543.13L1009.82 538.1L1013.18 532.22L1016.54 527.18L1019.06 526.35L1019.56 527.18L1022.91 528.02L1027.11 525.51L1031.31 523.83L1035.51 522.48L1039.7 521.31L1043.06 518.79L1046.42 515.1L1049.78 516.27L1053.97 517.95L1058.17 521.31L1061.53 524.67L1064.89 528.02L1069.09 529.7L1073.28 533.06L1076.64 536.42L1080 539.27L1084.2 540.28L1088.39 540.95L1093.43 539.27L1098.47 537.59L1103.5 533.9L1108.54 530.54L1113.58 527.18L1117.78 524.16L1121.97 522.65L1126.17 521.81L1130.37 522.15L1134.57 520.13L1137.08 521.81L1140.44 524.16L1144.64 525.51L1148 528.86L1152.19 530.88L1156.39 533.06L1160.59 535.58L1163.95 540.62L1167.31 545.32L1170.66 548.68"/>
<path class="c rd" d="M872.99 645.22L909.09 645.05L921.68 644.38L925.88 641.02L929.23 637.16L931.75 631.28L933.43 622.89L935.11 609.45L936.79 596.02L938.47 582.59L940.15 572.52L942.33 562.44L944.34 554.89L946.86 549.01L949.38 544.81L952.4 543.13L954.42 543.97L956.94 543.64L959.45 545.65L961.97 549.85L965.33 554.05L968.69 559.92L972.05 564.96L975.4 567.48L978.76 570.84L982.12 573.86L985.48 575.54L988.84 575.88L992.19 576.71L994.71 576.71L998.07 574.2L1001.43 570.84L1004.79 566.64L1008.15 563.28L1011.5 559.92L1014.86 556.57L1016.54 554.38L1019.06 555.39L1015.36 554.89L1019.56 556.57L1022.91 557.41L1027.11 555.39L1030.47 556.06L1033.83 554.89L1037.18 553.21L1041.38 554.38L1044.74 550.69L1046.75 548.17L1049.78 550.69L1053.97 553.21L1057.33 554.89L1060.69 558.25L1064.89 562.11L1069.09 564.12L1073.28 566.14L1076.64 568.32L1080 570.84L1084.2 571.34L1088.39 570.33L1093.43 568.32L1098.47 566.64L1103.5 563.79L1108.54 561.1L1113.58 558.25L1117.78 554.89L1122.81 554.05L1127.85 552.37L1132.89 552.37L1135.91 549.85L1137.92 552.37L1141.28 554.05L1145.48 553.21L1148.84 556.06L1153.03 557.07L1157.23 558.75L1160.59 560.76L1163.95 564.96L1167.31 567.82L1170.66 570.84"/>
<text class="tk" text-anchor="middle" x="889.14" y="670">04</text><text class="tk" text-anchor="middle" x="914.65" y="670">07</text><text class="tk" text-anchor="middle" x="940.45" y="670">10</text><text class="tk" text-anchor="middle" x="991.77" y="670">04</text><text class="tk" text-anchor="middle" x="1017.28" y="670">07</text><text class="tk" text-anchor="middle" x="1043.08" y="670">10</text><text class="tk" text-anchor="middle" x="1094.12" y="670">04</text><text class="tk" text-anchor="middle" x="1119.63" y="670">07</text><text class="tk" text-anchor="middle" x="1145.43" y="670">10</text>
<path class="gm" d="M889.14 507.6V652.3M914.65 507.6V652.3M940.45 507.6V652.3M991.77 507.6V652.3M1017.28 507.6V652.3M1043.08 507.6V652.3M1094.12 507.6V652.3M1119.63 507.6V652.3M1145.43 507.6V652.3"/>
<path class="dt" d="M910.17 651.17V508.1M927.27 651.17V508.1M1016.16 651.17V508.1M1077.01 651.17V508.1"/>
<rect class="ax" x="858.3" y="507.6" width="327" height="144.7"/>
</g>
<g id="p_j">
<text class="pl" x="71.1" y="717">(j)</text>
<path class="gM" d="M71.1 733.75H398.1"/><text class="tk" text-anchor="end" x="60.4" y="738.45">2.0</text>
<path class="gM" d="M71.1 766.2H398.1"/><text class="tk" text-anchor="end" x="60.4" y="770.9">1.5</text>
<path class="gM" d="M71.1 798.7H398.1"/><text class="tk" text-anchor="end" x="60.4" y="803.4">1.0</text>
<path class="gM" d="M71.1 831.15H398.1"/><text class="tk" text-anchor="end" x="60.4" y="835.85">0.5</text>
<path class="gM" d="M71.1 863.6H398.1"/><text class="tk" text-anchor="end" x="60.4" y="868.3">0.0</text>
<text class="tk" text-anchor="middle" x="76.4" y="888.2">01</text><text class="tk" text-anchor="middle" x="76.4" y="901.9">1991</text>
<text class="tk" text-anchor="middle" x="178.75" y="888.2">01</text><text class="tk" text-anchor="middle" x="178.75" y="901.9">1992</text>
<text class="tk" text-anchor="middle" x="281.38" y="888.2">01</text><text class="tk" text-anchor="middle" x="281.38" y="901.9">1993</text>
<text class="tk" text-anchor="middle" x="383.73" y="888.2">01</text><text class="tk" text-anchor="middle" x="383.73" y="901.9">1994</text>
<path class="gM" d="M76.4 723.5V868.2M178.75 723.5V868.2M281.38 723.5V868.2M383.73 723.5V868.2"/>
<path class="c bl ds" d="M85.15 861.22L123.76 861.22L127.12 860.71L129.64 857.36L132.16 852.32L134.68 848.12L138.04 843.08L142.23 838.89L146.43 834.69L150.63 828.81L153.99 822.1L157.34 813.7L160.7 803.63L164.06 793.55L167.42 783.48L170.78 772.57L173.29 765.01L175.81 760.81L179.17 755.78L182.53 752.42L185.89 749.9L188.4 749.06L190.92 750.74L193.44 753.26L195.96 759.97L199.32 765.85L202.68 772.57L206.03 779.28L209.39 786.84L212.75 793.55L216.11 800.27L219.47 806.65L222.82 813.37L226.18 820.08L229.54 824.62L232.9 827.97L233.39 828.48L238.43 831.83L243.47 834.19L248.51 837.21L255.22 839.73L261.94 841.91L268.65 843.92L275.37 845.6L282.09 847.28L289.64 849.8L295.52 851.48L302.23 853.49L308.95 855.34L315.66 856.68L322.38 857.69L329.1 858.7L335.81 859.37L342.53 859.87L383.66 860.71"/>
<path class="c bl" d="M85.15 861.22L122.92 861.22L126.28 860.71L128.8 858.19L131.32 853.16L133.84 847.28L136.36 841.4L138.88 834.69L141.39 828.81L144.75 822.94L148.11 817.9L151.47 812.02L154.83 804.47L158.18 796.07L161.54 788.52L164.9 780.96L168.26 775.09L170.78 770.05L173.29 765.85L174.97 767.53L177.49 765.85L180.85 763L184.21 760.31L187.57 759.13L190.92 757.79L193.44 759.13L195.96 762.49L199.32 766.69L202.68 771.73L206.03 778.44L209.39 786L212.75 792.71L216.11 799.43L219.47 805.31L222.82 812.02L226.18 818.74L229.54 823.78L232.9 827.47L233.39 826.8L238.43 829.65L243.47 831.83L248.51 834.69L255.22 837.21L261.94 839.22L268.65 840.9L275.37 842.58L282.09 844.26L289.64 847.28L295.52 848.96L302.23 851.14L308.95 853.49L315.66 855.34L322.38 856.68L329.1 858.03L335.81 859.03L342.53 859.71L352.6 860.04L362.68 860.21L372.75 860.38L383.66 860.55"/>
<path class="c rd ds" d="M85.15 860.38L126.28 860.38L129.64 857.36L132.16 852.32L134.68 847.28L138.04 842.24L142.23 837.54L147.27 830.83L151.47 824.11L154.83 816.22L158.18 807.83L161.54 799.43L164.9 790.2L168.26 779.28L170.78 769.21L173.29 759.97L175.81 754.94L179.17 748.56L182.53 741.84L185.89 738.15L190.08 734.45L193.44 731.1L195.96 731.94L199.32 732.78L201.84 732.27L204.36 730.26L206.87 729.75L209.39 732.27L212.75 735.97L216.11 740.16L219.47 744.53L222.82 748.56L226.18 751.92L230.38 754.94L233.39 757.12L238.43 760.48L243.47 763L248.51 764.68L254.38 765.52L258.58 764.34L263.62 762.66L268.65 760.31L273.69 757.96L277.89 757.62L281.25 756.62L285.44 759.3L289.64 761.65L293.84 763.33L298.04 765.01L302.23 766.69L306.43 771.39L310.63 776.26L315.66 782.14L320.7 788.18L325.74 794.9L330.78 801.61L335.81 807.32L342.53 811.52L349.24 813.7L357.64 814.21L364.36 813.03L369.39 810.68L374.43 809.17L379.47 808.66L383.66 808.16"/>
<path class="c rd" d="M85.15 860.38L122.09 860.38L126.28 859.87L127.96 852.32L130.14 840.57L132.16 832.17L134.68 825.45L136.86 818.74L138.88 813.37L140.89 810.34L143.91 807.83L147.27 803.63L150.63 798.59L153.99 792.71L158.18 786.84L161.54 779.28L164.9 772.57L167.75 769.21L169.94 764.17L172.45 755.78L174.97 752.08L178.33 749.9L180.85 747.89L183.37 743.18L185.89 740.67L188.4 737.81L190.92 735.63L193.44 733.45L194.62 732.78L196.3 735.63L198.48 737.31L201 738.15L203.52 738.48L206.03 741.17L209.39 745.7L212.75 749.9L216.11 754.94L219.47 759.97L222.82 765.01L226.18 770.89L229.54 775.09L232.06 777.6L231.72 776.76L235.91 779.79L240.11 783.98L244.31 785.49L248.51 788.18L252.7 789.86L256.06 790.36L260.26 789.19L265.3 789.19L269.49 786.5L272.85 787.01L276.21 785.49L281.25 785.49L285.44 787.68L289.64 789.86L293.84 791.54L298.04 792.55L301.39 793.72L305.59 796.24L309.79 799.93L313.99 803.29L318.18 807.66L322.38 811.69L327.42 816.72L332.45 821.26L337.49 824.62L342.53 826.63L349.24 827.64L357.64 827.97L364.36 827.13L367.71 827.13L371.07 825.45L376.11 824.28L379.47 823.44L383.66 822.94"/>
<text class="tk" text-anchor="middle" x="101.64" y="885.9">04</text><text class="tk" text-anchor="middle" x="127.15" y="885.9">07</text><text class="tk" text-anchor="middle" x="152.95" y="885.9">10</text><text class="tk" text-anchor="middle" x="204.27" y="885.9">04</text><text class="tk" text-anchor="middle" x="229.78" y="885.9">07</text><text class="tk" text-anchor="middle" x="255.58" y="885.9">10</text><text class="tk" text-anchor="middle" x="306.62" y="885.9">04</text><text class="tk" text-anchor="middle" x="332.13" y="885.9">07</text><text class="tk" text-anchor="middle" x="357.93" y="885.9">10</text>
<path class="gm" d="M101.64 723.5V868.2M127.15 723.5V868.2M152.95 723.5V868.2M204.27 723.5V868.2M229.78 723.5V868.2M255.58 723.5V868.2M306.62 723.5V868.2M332.13 723.5V868.2M357.93 723.5V868.2"/>
<path class="dt" d="M122.67 867.08V724M139.77 867.08V724M228.66 867.08V724M289.51 867.08V724"/>
<rect class="ax" x="71.1" y="723.5" width="327" height="144.7"/>
<text class="yl" text-anchor="middle" transform="translate(32.6 795.85) rotate(-90)">Total (Tg S)</text>
</g>
<g id="p_k">
<text class="pl" x="464.7" y="717">(k)</text>
<path class="gM" d="M464.7 734.3H791.7"/><text class="tk" text-anchor="end" x="454" y="739">4</text>
<path class="gM" d="M464.7 766.35H791.7"/><text class="tk" text-anchor="end" x="454" y="771.05">3</text>
<path class="gM" d="M464.7 798.6H791.7"/><text class="tk" text-anchor="end" x="454" y="803.3">2</text>
<path class="gM" d="M464.7 830.8H791.7"/><text class="tk" text-anchor="end" x="454" y="835.5">1</text>
<path class="gM" d="M464.7 862.9H791.7"/><text class="tk" text-anchor="end" x="454" y="867.6">0</text>
<text class="tk" text-anchor="middle" x="470.1" y="888.2">01</text><text class="tk" text-anchor="middle" x="470.1" y="901.9">1991</text>
<text class="tk" text-anchor="middle" x="572.45" y="888.2">01</text><text class="tk" text-anchor="middle" x="572.45" y="901.9">1992</text>
<text class="tk" text-anchor="middle" x="675.08" y="888.2">01</text><text class="tk" text-anchor="middle" x="675.08" y="901.9">1993</text>
<text class="tk" text-anchor="middle" x="777.43" y="888.2">01</text><text class="tk" text-anchor="middle" x="777.43" y="901.9">1994</text>
<path class="gM" d="M470.1 723.5V868.2M572.45 723.5V868.2M675.08 723.5V868.2M777.43 723.5V868.2"/>
<path class="c bl ds" d="M478.99 861.55L515.92 861.55L517.6 853.16L518.78 836.37L520.12 819.58L521.8 799.43L524.32 777.6L526.84 760.81L529.36 749.06L532.71 738.99L536.07 734.45L539.43 732.78L542.79 732.27L545.31 733.11L548.66 736.8L552.02 742.85L556.22 750.24L560.42 758.63L564.62 767.87L568.81 776.26L573.85 786L578.89 795.23L583.92 802.79L588.96 809.5L594 815.38L599.03 820.42L604.07 824.62L609.11 829.65L615.82 835.02L622.54 838.89L621.36 840.06L626.39 841.74L633.11 844.26L639.83 846.78L646.54 848.79L653.26 850.98L659.97 852.82L666.69 854.67L673.41 856.35L680.12 857.36L683.48 857.36L688.52 856.18L695.23 855.51L701.95 855.84L712.02 857.02L725.45 858.03L738.89 858.7L776.66 859.71"/>
<path class="c bl" d="M478.99 861.55L516.76 861.55L520.12 860.71L522.64 858.19L525.16 852.32L527.68 845.6L530.2 836.37L532.71 826.29L535.23 816.22L537.75 807.83L540.27 799.43L542.79 792.71L545.31 786.84L548.66 781.8L552.02 778.78L555.38 778.11L558.74 778.95L562.1 779.62L564.62 782.64L567.13 786.84L569.65 788.52L572.17 791.04L575.53 796.58L578.89 801.61L582.24 806.48L585.6 810.68L590.64 815.04L595.68 819.24L600.71 823.44L605.75 827.47L610.79 831.33L615.82 835.02L620.86 838.05L625.9 840.57L626.39 840.57L633.11 842.75L639.83 845.1L646.54 846.95L653.26 849.3L659.97 851.48L666.69 853.33L673.41 855.34L680.12 856.68L683.48 857.02L688.52 856.01L695.23 855.34L701.95 855.68L712.02 856.68L725.45 857.69L738.89 858.36L752.32 858.7L765.75 859.2L776.66 859.54"/>
<path class="c rd ds" d="M478.99 860.71L515.92 860.71L517.1 852.32L518.44 838.89L520.12 822.1L521.8 805.31L523.82 788.52L526 771.73L528.52 758.3L531.04 747.38L533.55 739.83L536.07 734.45L538.59 731.1L540.27 730.09L541.95 732.27L544.47 731.94L546.15 732.78L548.66 735.63L552.02 740.67L555.38 746.54L558.74 752.42L562.1 758.3L565.45 764.17L569.65 770.05L573.85 775.09L578.89 779.62L583.92 783.14L588.96 785.66L594 788.18L599.03 790.2L604.07 791.54L609.11 792.71L614.15 793.55L619.18 793.55L623.38 794.39L626.39 793.22L631.43 792.88L636.47 793.39L641.51 794.73L645.7 795.74L649.06 797.42L652.42 800.27L656.62 802.28L661.65 804.47L665.85 806.48L670.05 808.66L675.09 810.01L680.12 810.85L685.16 811.35L690.2 810.01L695.23 812.02L700.27 813.7L706.99 815.72L713.7 817.4L720.42 819.07L727.13 819.75L733.85 820.08L738.89 820.92L745.6 822.77L752.32 824.45L759.03 826.46L765.75 829.32L772.47 831.83L776.66 833.18"/>
<path class="c rd" d="M478.99 860.71L516.76 860.71L518.44 857.36L520.12 847.28L521.8 833.85L523.82 818.74L526 801.95L528.52 783.48L531.04 770.05L533.55 759.97L536.07 752.42L538.59 747.89L541.11 745.7L543.63 744.86L545.64 745.37L547.83 746.88L550.34 749.56L553.7 752.92L557.06 756.95L560.42 760.31L563.78 765.85L567.13 771.39L570.49 774.25L573.85 777.6L577.21 781.8L581.4 785.66L585.6 789.86L589.8 791.88L594 794.9L599.03 798.26L604.07 800.61L609.11 803.12L614.15 804.8L619.18 805.98L623.38 806.65L625.56 806.31L629.75 805.98L634.79 806.48L639.83 807.99L644.02 809.5L648.22 810.34L652.42 813.7L656.62 815.38L660.81 817.06L665.01 819.07L670.05 821.26L675.09 823.27L680.12 824.45L682.64 824.95L686 823.78L691.04 823.44L695.23 824.95L700.27 825.79L708.66 827.97L717.06 829.48L725.45 830.83L733.85 831.83L738.89 832.51L743.08 833.85L747.28 833.85L752.32 835.02L757.36 836.37L764.07 838.38L770.79 840.06L776.66 841.07"/>
<text class="tk" text-anchor="middle" x="495.34" y="885.9">04</text><text class="tk" text-anchor="middle" x="520.85" y="885.9">07</text><text class="tk" text-anchor="middle" x="546.65" y="885.9">10</text><text class="tk" text-anchor="middle" x="597.97" y="885.9">04</text><text class="tk" text-anchor="middle" x="623.48" y="885.9">07</text><text class="tk" text-anchor="middle" x="649.28" y="885.9">10</text><text class="tk" text-anchor="middle" x="700.32" y="885.9">04</text><text class="tk" text-anchor="middle" x="725.83" y="885.9">07</text><text class="tk" text-anchor="middle" x="751.63" y="885.9">10</text>
<path class="gm" d="M495.34 723.5V868.2M520.85 723.5V868.2M546.65 723.5V868.2M597.97 723.5V868.2M623.48 723.5V868.2M649.28 723.5V868.2M700.32 723.5V868.2M725.83 723.5V868.2M751.63 723.5V868.2"/>
<path class="dt" d="M516.37 867.08V724M533.47 867.08V724M622.36 867.08V724M683.21 867.08V724"/>
<rect class="ax" x="464.7" y="723.5" width="327" height="144.7"/>
</g>
<g id="p_l">
<text class="pl" x="858.3" y="717">(l)</text>
<path class="gM" d="M858.3 750.4H1185.3"/><text class="tk" text-anchor="end" x="847.6" y="755.1">0.8</text>
<path class="gM" d="M858.3 779.3H1185.3"/><text class="tk" text-anchor="end" x="847.6" y="784">0.6</text>
<path class="gM" d="M858.3 808.7H1185.3"/><text class="tk" text-anchor="end" x="847.6" y="813.4">0.4</text>
<path class="gM" d="M858.3 837.7H1185.3"/><text class="tk" text-anchor="end" x="847.6" y="842.4">0.2</text>
<path class="gM" d="M858.3 867.1H1185.3"/><text class="tk" text-anchor="end" x="847.6" y="871.8">0.0</text>
<text class="tk" text-anchor="middle" x="863.9" y="888.2">01</text><text class="tk" text-anchor="middle" x="863.9" y="901.9">1991</text>
<text class="tk" text-anchor="middle" x="966.25" y="888.2">01</text><text class="tk" text-anchor="middle" x="966.25" y="901.9">1992</text>
<text class="tk" text-anchor="middle" x="1068.88" y="888.2">01</text><text class="tk" text-anchor="middle" x="1068.88" y="901.9">1993</text>
<text class="tk" text-anchor="middle" x="1171.23" y="888.2">01</text><text class="tk" text-anchor="middle" x="1171.23" y="901.9">1994</text>
<path class="gM" d="M863.9 723.5V868.2M966.25 723.5V868.2M1068.88 723.5V868.2M1171.23 723.5V868.2"/>
<path class="c bl ds" d="M872.99 861.22L909.09 861.05L921.68 860.38L924.2 857.36L927.55 851.48L930.07 842.24L932.59 829.65L935.11 814.54L937.63 798.59L940.15 786L942.66 774.25L945.18 764.17L947.7 755.78L951.06 749.9L954.42 746.21L958.62 742.35L962.81 737.81L967.01 734.79L971.21 735.63L975.4 733.95L979.6 733.45L982.12 734.79L984.64 735.63L987.16 731.77L988.84 729.42L992.19 731.43L996.39 733.11L1000.59 735.63L1003.95 738.99L1007.31 744.02L1010.66 749.06L1014.02 752.42L1017.38 756.62L1019.9 764.17L1020.39 767.53L1023.75 774.25L1027.11 779.28L1028.79 786L1032.15 790.53L1034.67 795.23L1037.18 801.61L1040.54 807.32L1043.9 812.36L1048.1 817.9L1052.3 822.1L1057.33 826.29L1062.37 830.49L1067.41 834.19L1072.44 837.21L1077.48 840.57L1080.84 842.58L1085.88 841.91L1092.59 840.57L1099.31 839.22L1106.02 838.21L1112.74 837.88L1119.45 838.55L1126.17 839.56L1132.89 840.57L1139.6 841.91L1146.32 843.59L1153.03 844.93L1159.75 846.44L1166.47 848.12L1170.66 849.3"/>
<path class="c bl" d="M872.99 861.22L909.09 861.05L922.52 860.38L927.55 858.19L930.91 854L933.43 847.28L935.95 835.53L938.47 822.1L940.99 806.99L943.5 793.55L946.02 784.32L948.54 775.92L951.06 770.89L953.58 769.21L956.1 769.71L958.62 768.37L961.13 770.05L963.65 771.39L966.17 770.89L968.69 774.25L971.21 776.76L973.73 778.44L976.24 778.78L978.76 780.96L981.28 782.64L983.8 786L986.32 785.16L988.84 781.8L991.36 782.64L994.71 782.3L998.07 781.47L1001.43 780.46L1004.79 780.12L1008.15 781.47L1011.5 781.8L1014.86 781.47L1017.38 783.82L1019.9 787.68L1021.23 788.52L1024.59 791.88L1026.78 791.04L1028.79 795.57L1032.15 797.25L1035.51 801.11L1038.86 805.64L1043.06 810.68L1047.26 815.72L1051.46 820.08L1055.65 822.94L1060.69 826.8L1065.73 830.83L1070.76 834.19L1076.64 838.55L1080.84 841.4L1085.88 840.57L1092.59 839.22L1099.31 837.88L1106.02 836.87L1112.74 836.54L1119.45 836.87L1126.17 837.71L1132.89 838.55L1139.6 839.73L1146.32 841.4L1153.03 842.58L1159.75 843.92L1166.47 845.6L1170.66 846.61"/>
<path class="c rd ds" d="M872.99 859.54L909.09 859.03L922.52 858.03L926.71 854.33L929.57 848.96L931.75 838.89L933.43 825.45L935.11 812.02L937.29 796.91L939.31 786.84L941.83 773.41L944.34 765.01L946.86 755.78L949.38 746.54L951.9 743.18L953.58 744.86L955.26 744.02L958.62 746.54L961.97 749.9L965.33 755.78L968.69 760.81L972.05 765.01L976.24 768.37L980.44 772.06L984.64 774.25L988.84 774.75L993.03 773.91L996.39 772.57L999.75 768.37L1003.11 763.33L1006.47 758.3L1009.82 753.26L1013.18 747.38L1016.54 743.18L1019.06 742.85L1019.56 743.18L1022.91 744.02L1027.11 741.51L1031.31 739.83L1035.51 738.48L1039.7 737.31L1043.06 734.79L1046.42 730.59L1049.78 732.27L1053.97 733.95L1058.17 737.31L1061.53 740.67L1064.89 744.02L1069.09 745.7L1073.28 749.06L1076.64 752.42L1080 755.27L1084.2 756.28L1088.39 756.95L1093.43 755.27L1098.47 753.59L1103.5 749.9L1108.54 746.54L1113.58 743.18L1117.78 740.16L1121.97 738.65L1126.17 737.81L1130.37 738.15L1134.57 736.13L1137.08 737.81L1140.44 740.16L1144.64 741.51L1148 744.86L1152.19 746.88L1156.39 749.06L1160.59 751.58L1163.95 756.62L1167.31 761.32L1170.66 764.68"/>
<path class="c rd" d="M872.99 859.54L909.09 859.03L921.68 857.86L925.04 854L928.39 850.64L930.58 842.24L932.26 828.81L934.27 813.7L936.28 800.27L938.47 786.84L940.65 775.09L942.66 766.69L944.01 763L945.35 763.67L946.86 759.13L949.04 756.62L951.06 755.78L952.74 757.46L955.26 757.96L957.78 759.13L960.29 761.99L962.81 765.01L966.17 770.05L969.53 775.92L972.89 780.12L976.24 783.14L979.6 786.84L982.96 789.86L986.32 791.04L989.68 791.37L992.19 791.04L994.71 791.88L998.07 790.2L1001.43 786.84L1004.79 783.14L1008.15 779.28L1011.5 775.92L1014.86 772.06L1017.38 770.05L1019.9 771.73L1019.56 772.06L1022.91 773.07L1027.11 770.89L1030.47 771.73L1033.83 770.38L1037.18 768.71L1041.38 770.05L1044.74 766.35L1046.75 763.67L1049.78 766.35L1053.97 768.87L1057.33 770.55L1060.69 773.91L1064.89 777.77L1069.09 779.79L1073.28 781.8L1076.64 783.98L1080 786L1084.2 785.66L1088.39 784.66L1093.43 782.98L1098.47 780.96L1103.5 778.11L1108.54 775.42L1113.58 772.57L1117.78 769.21L1122.81 768.37L1127.85 767.03L1132.89 767.03L1135.91 764.17L1137.92 767.03L1141.28 768.71L1145.48 768.03L1148.84 771.06L1153.03 772.06L1157.23 773.74L1160.59 775.92L1163.95 780.12L1167.31 783.14L1170.66 786"/>
<text class="tk" text-anchor="middle" x="889.14" y="885.9">04</text><text class="tk" text-anchor="middle" x="914.65" y="885.9">07</text><text class="tk" text-anchor="middle" x="940.45" y="885.9">10</text><text class="tk" text-anchor="middle" x="991.77" y="885.9">04</text><text class="tk" text-anchor="middle" x="1017.28" y="885.9">07</text><text class="tk" text-anchor="middle" x="1043.08" y="885.9">10</text><text class="tk" text-anchor="middle" x="1094.12" y="885.9">04</text><text class="tk" text-anchor="middle" x="1119.63" y="885.9">07</text><text class="tk" text-anchor="middle" x="1145.43" y="885.9">10</text>
<path class="gm" d="M889.14 723.5V868.2M914.65 723.5V868.2M940.45 723.5V868.2M991.77 723.5V868.2M1017.28 723.5V868.2M1043.08 723.5V868.2M1094.12 723.5V868.2M1119.63 723.5V868.2M1145.43 723.5V868.2"/>
<path class="dt" d="M910.17 867.08V724M927.27 867.08V724M1016.16 867.08V724M1077.01 867.08V724"/>
<rect class="ax" x="858.3" y="723.5" width="327" height="144.7"/>
</g>
<path class="c bl ds" d="M213.3 932.3H257.3"/><text class="lg" x="276.5" y="940">MAM4SC</text>
<path class="c bl" d="M418 932.3H465"/><text class="lg" x="481.9" y="940">MAM4FC</text>
<path class="c rd ds" d="M622.7 932.3H667.7"/><text class="lg" x="685.9" y="940">MAM5SC</text>
<path class="c rd" d="M828 932.3H875"/><text class="lg" x="891.9" y="940">MAM5FC</text>
</svg>
</body>
</html>
